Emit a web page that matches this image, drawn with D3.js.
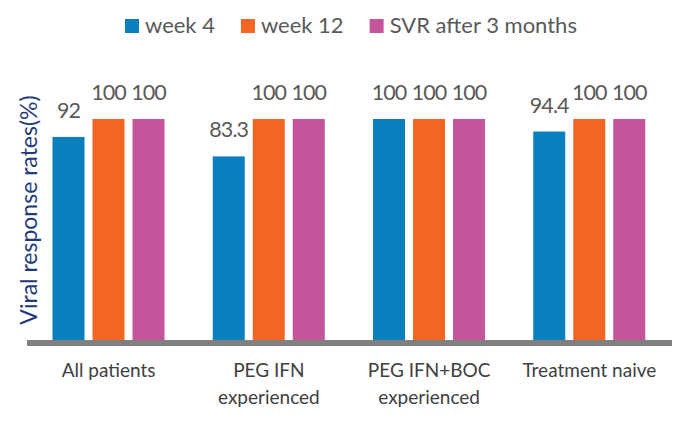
<!DOCTYPE html>
<html>
<head>
<meta charset="utf-8">
<script src="https://cdn.jsdelivr.net/npm/d3@7"></script>
<style>
  html, body { margin: 0; padding: 0; background: #fff; }
  svg { display: block; font-family: Lato, "Open Sans", sans-serif; }
</style>
</head>
<body>
<svg id="chart" width="682" height="421"></svg>
<script>
const categories = [["All patients"], ["PEG IFN", "experienced"], ["PEG IFN+BOC", "experienced"], ["Treatment naive"]];
const series = ["week 4", "week 12", "SVR after 3 months"];
const week4 = [92, 83.3, 100, 94.4];
const week12 = [100, 100, 100, 100];
const svr3 = [100, 100, 100, 100];
const colors = ["#0a7fbd", "#f26522", "#c4559b"];

const values = [week4, week12, svr3];
const catKeys = categories.map(c => c.join(" "));

const svg = d3.select("#chart");

const x = d3.scaleBand().domain(catKeys).range([28.5, 669.5]).padding(0);
const xi = d3.scaleBand().domain(series).range([24, 136]).paddingInner(0.2).paddingOuter(0);
const y = d3.scaleLinear().domain([0, 100]).range([343, 119]);

const data = [];
catKeys.forEach((c, ci) => {
  series.forEach((s, si) => {
    data.push({ cat: c, ser: s, si, v: values[si][ci] });
  });
});

// bars
svg.append("g").selectAll("rect").data(data).join("rect")
  .attr("x", d => x(d.cat) + xi(d.ser))
  .attr("y", d => y(d.v))
  .attr("width", xi.bandwidth())
  .attr("height", d => y(0) - y(d.v))
  .attr("fill", d => colors[d.si]);

// value labels
svg.append("g").selectAll("text").data(data).join("text")
  .attr("x", d => x(d.cat) + xi(d.ser) + xi.bandwidth() / 2)
  .attr("y", d => y(d.v) - 19)
  .attr("text-anchor", "middle")
  .attr("font-size", 21.5)
  .attr("fill", "#595959")
  .attr("letter-spacing", "-0.9")
  .text(d => d.v);

// baseline
svg.append("line")
  .attr("x1", 27).attr("x2", 672)
  .attr("y1", y(0)).attr("y2", y(0))
  .attr("stroke", "#808080")
  .attr("stroke-width", 6);

// category labels
const cl = svg.append("g").selectAll("text").data(categories).join("text")
  .attr("x", (d, i) => x(catKeys[i]) + x.bandwidth() / 2)
  .attr("y", 377)
  .attr("text-anchor", "middle")
  .attr("font-size", 19)
  .attr("fill", "#404040");
cl.selectAll("tspan").data(d => d).join("tspan")
  .attr("x", function () { return d3.select(this.parentNode).attr("x"); })
  .attr("dy", (d, i) => i === 0 ? 0 : 27)
  .text(d => d);

// y axis title
svg.append("text")
  .attr("transform", "translate(36.5,210) rotate(-90)")
  .attr("text-anchor", "middle")
  .attr("font-size", 23)
  .attr("fill", "#1f3b7a")
  .text("Viral response rates(%)");

// legend
const legend = svg.append("g");
let lx = 125;
series.forEach((s, i) => {
  legend.append("rect")
    .attr("x", lx).attr("y", 19)
    .attr("width", 14).attr("height", 14)
    .attr("fill", colors[i]);
  const t = legend.append("text")
    .attr("x", lx + 20).attr("y", 33)
    .attr("font-size", 22)
    .attr("fill", "#595959")
    .text(s);
  lx += 20 + t.node().getComputedTextLength() + 26;
});
</script>
</body>
</html>
